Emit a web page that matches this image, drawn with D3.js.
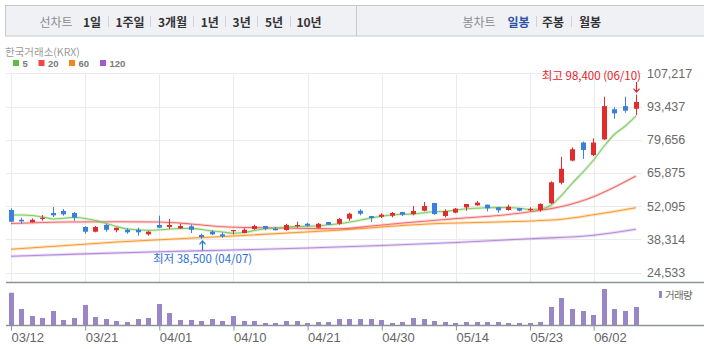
<!DOCTYPE html>
<html><head><meta charset="utf-8">
<script src="https://cdn.jsdelivr.net/npm/d3@7"></script>
<style>body{margin:0;background:#fff;}svg{display:block;}</style>
</head><body>
<svg id="chart" width="704" height="349"></svg>
<script>
// ---------- data ----------
const dates = ["03/12","03/13","03/14","03/17","03/18","03/19","03/20","03/21","03/24","03/25",
  "03/26","03/27","03/28","03/31","04/01","04/02","04/03","04/04","04/07","04/08",
  "04/09","04/10","04/11","04/14","04/15","04/16","04/17","04/18","04/21","04/22",
  "04/23","04/24","04/25","04/28","04/29","04/30","05/02","05/07","05/08","05/09",
  "05/12","05/13","05/14","05/15","05/16","05/19","05/20","05/21","05/22","05/23",
  "05/26","05/27","05/28","05/29","05/30","06/02","06/04","06/05","06/09","06/10"];
const openP  = [50500,46450,45400,46900,49250,50100,49250,43450,41500,44300,
  42100,42300,42300,40400,44300,43450,42900,43750,40150,41500,
  40400,41900,40950,42600,43850,42750,42200,44000,44800,43150,
  45500,44800,46900,50200,48000,47700,48150,49650,48800,50200,
  53400,48000,49400,51600,52450,52700,51600,50500,51300,50400,
  50500,53300,61800,71000,78500,73300,79800,92300,93600,92500];
const highP  = [51200,47300,47050,48400,51750,50900,49650,43750,43850,44800,
  43200,42900,43150,41800,48150,46750,44800,44550,40650,42100,
  41250,42200,42900,44400,43900,43450,44800,45650,45250,45100,
  45550,47200,49400,50800,48050,49150,49650,49700,52150,53800,
  53450,50800,51300,53000,54250,52750,51650,52700,51350,51600,
  53300,62400,72600,76500,78900,80200,97500,93100,97500,98400];
const lowP   = [45400,44800,45350,46050,47600,48150,46050,40650,41250,41500,
  41250,40650,39850,39850,43100,42600,42600,40950,38500,40150,
  39000,40400,40900,42300,42100,42050,41900,43150,43550,42900,
  44300,44400,46050,48300,45500,47200,47450,48000,48300,49950,
  48550,47450,49150,50200,52300,49950,49400,50200,49950,49950,
  49800,53000,61150,70700,71700,72900,79500,88400,90850,89800];
const closeP = [45650,45800,46450,47300,48300,48700,47300,41500,43450,42300,
  43150,41250,41250,41500,43150,44300,43850,42300,39300,40400,
  39600,42200,42300,43850,42750,42100,44300,44300,44000,44800,
  44400,46750,48950,48950,47200,48550,49250,48550,50100,52150,
  48800,50100,51050,53000,53550,51200,50400,51850,50200,50900,
  53000,62000,67600,75700,75400,78500,93600,90600,91700,95300];
const volume = [3230,1600,900,700,1400,500,700,2000,800,600,
  400,300,600,700,2100,1200,500,500,400,600,
  400,900,400,400,200,200,400,400,200,300,
  300,600,600,600,600,500,200,300,700,600,
  400,300,200,300,300,300,300,200,200,200,
  300,1800,2700,1600,1400,1000,3600,1600,1400,1800];
// moving averages
const ma5 = [48420,48400,48220,47590,46760,47050,47470,46970,46140,44900,
  43650,42610,42280,42070,42280,42610,42820,42900,42410,41780,
  41370,40830,41160,41990,42700,42900,43440,43650,43780,43940,
  44400,44770,45520,46350,47180,47930,48420,48720,48840,49380,
  49750,49880,50500,51000,51250,51410,51500,51540,51210,50790,
  50910,52570,56720,61700,66270,71250,77060,82040,85360,89510];
const ma20Idx = [0,5,10,14,17,20,24,28,31,34,37,41,43,46,49,52,55,57,59];
const ma20 = [44900,45520,45640,45520,44690,43570,43110,42820,42700,43860,45100,46560,47260,48220,49790,51950,56020,60040,64610];
const ma60Idx = [0,10,20,30,41,46,49,52,55,59];
const ma60 = [34190,37220,39500,41910,44980,45520,45930,46640,48550,51450];
const ma120Idx = [0,7,14,21,28,35,42,49,55,59];
const ma120 = [31290,32320,33190,33900,34730,35770,37010,38590,40000,42490];

const priceTicks = [24533,38314,52095,65875,79656,93437,107217];
const dateTicks = ["03/12","03/21","04/01","04/10","04/21","04/30","05/14","05/23","06/02"];
const legendItems = ["5","20","60","120"];
const legendColors = ["#5dbe3f","#ef4848","#f5861f","#9d5ccc"];
const navLine = ["1일","1주일","3개월","1년","3년","5년","10년"];
const navLineX = [83,115.4,158,200.7,232.6,265,296.4];
const navLineSep = [107.8,150.4,193,224.5,256.8,289.6];
const navCandle = ["일봉","주봉","월봉"];
const navCandleX = [507.4,542,579];
const navCandleSep = [535.7,571];

// ---------- chart ----------
const svg = d3.select("#chart");
const KR = "'Noto Sans CJK KR','Noto Sans',sans-serif";
const NUM = "'Liberation Sans Narrow','Arial Narrow','Liberation Sans',sans-serif";

// nav bar
svg.append("rect").attr("x",5.5).attr("y",5.5).attr("width",720).attr("height",30.5)
  .attr("fill","#f0f1f5").attr("stroke","#c8c8cc");
svg.append("line").attr("x1",356.5).attr("x2",356.5).attr("y1",6).attr("y2",36).attr("stroke","#c8c8cc");
function navText(t,x,color,weight){
  svg.append("text").attr("x",x).attr("y",21).attr("dominant-baseline","central")
    .attr("font-family",KR).attr("font-size",12).attr("font-weight",weight).attr("fill",color).text(t);
}
navText("선차트",39.5,"#8c8c8c",400);
navLine.forEach((t,i)=>navText(t,navLineX[i],"#333",700));
navText("봉차트",462.5,"#8c8c8c",400);
navCandle.forEach((t,i)=>navText(t,navCandleX[i],i===0?"#2c52a6":"#333",700));
navLineSep.concat(navCandleSep).forEach(x=>{
  svg.append("line").attr("x1",Math.round(x)+0.5).attr("x2",Math.round(x)+0.5).attr("y1",16).attr("y2",27).attr("stroke","#d2d2d6");
});

// exchange + legend
svg.append("text").attr("x",5).attr("y",55.5).attr("font-family",KR).attr("font-size",10.5)
  .attr("fill","#9a9a9a").text("한국거래소(KRX)");
const legX = [13,38.5,69,100];
legendItems.forEach((t,i)=>{
  svg.append("rect").attr("x",legX[i]).attr("y",60).attr("width",6).attr("height",6).attr("fill",legendColors[i]);
  svg.append("text").attr("x",legX[i]+9.5).attr("y",67).attr("font-family","'Liberation Sans',sans-serif")
    .attr("font-size",9.5).attr("font-weight",700).attr("fill","#7a7a7a").text(t);
});

// scales
const x = d3.scalePoint().domain(dates).range([11,636]);
const y = d3.scaleLinear().domain([24533,107217]).range([272.6,73.3]);
const vy = d3.scaleLinear().domain([0,d3.max(volume)]).range([325,289]);

// grid
const gGrid = svg.append("g");
priceTicks.forEach(p=>{
  const yy = Math.round(y(p))+0.5;
  gGrid.append("line").attr("x1",6).attr("x2",642).attr("y1",yy).attr("y2",yy).attr("stroke","#ebebeb");
});
dateTicks.forEach(d=>{
  const xx = Math.round(x(d))+0.5;
  gGrid.append("line").attr("x1",xx).attr("x2",xx).attr("y1",73).attr("y2",282).attr("stroke","#ebebeb");
});

// right axis (labels)
const yAxis = d3.axisRight(y).tickValues(priceTicks).tickSize(0).tickPadding(0)
  .tickFormat(d=>d3.format(",")(d));
const gy = svg.append("g").attr("transform","translate(647,0)").call(yAxis);
gy.select(".domain").remove();
gy.selectAll("text").attr("font-family",NUM).attr("font-size",12.5).attr("fill","#6a6a6a");

// moving averages
function drawMA(idx, vals, color, op){
  const line = d3.line().x((d,i)=>x(dates[idx[i]])).y(d=>y(d)).curve(d3.curveMonotoneX);
  svg.append("path").attr("d",line(vals)).attr("fill","none").attr("stroke",color).attr("stroke-width",3).attr("stroke-opacity",0.25);
  svg.append("path").attr("d",line(vals)).attr("fill","none").attr("stroke",color).attr("stroke-width",1.1).attr("stroke-opacity",op);
}
drawMA(ma120Idx, ma120, "#a877d6", 0.8);
drawMA(ma60Idx, ma60, "#f7921e", 0.9);
drawMA(ma20Idx, ma20, "#f06262", 0.9);
drawMA(d3.range(dates.length), ma5, "#78c95a", 0.9);

// candles
const gC = svg.append("g");
dates.forEach((d,i)=>{
  const up = closeP[i] >= openP[i];
  const col = up ? "#e22b2b" : "#3a7ee0";
  const left = Math.round(x(d)-2.5);
  gC.append("rect").attr("x",left+2).attr("width",1)
    .attr("y",y(highP[i])).attr("height",Math.max(1,y(lowP[i])-y(highP[i]))).attr("fill",col);
  const top = y(Math.max(openP[i],closeP[i])), bot = y(Math.min(openP[i],closeP[i]));
  gC.append("rect").attr("x",left).attr("width",5)
    .attr("y",top).attr("height",Math.max(1.2,bot-top)).attr("fill",col);
});

// price axis bottom line
svg.append("line").attr("x1",6).attr("x2",704).attr("y1",282.5).attr("y2",282.5).attr("stroke","#8d9299").attr("stroke-width",1.5);

// volume bars
const gV = svg.append("g");
dates.forEach((d,i)=>{
  const left = Math.round(x(d)-2.5);
  gV.append("rect").attr("x",left).attr("width",5).attr("y",vy(volume[i])).attr("height",325-vy(volume[i])).attr("fill","#9a86c6");
});
svg.append("line").attr("x1",6).attr("x2",704).attr("y1",325.5).attr("y2",325.5).attr("stroke","#8d9299").attr("stroke-width",1.5);

// volume legend
svg.append("rect").attr("x",659).attr("y",291).attr("width",3).attr("height",7).attr("fill","#9a86c6");
svg.append("text").attr("x",665).attr("y",298.5).attr("font-family",KR).attr("font-size",10.5)
  .attr("letter-spacing","-0.6").attr("fill","#6a6a6a").text("거래량");

// x axis
const xAxis = d3.axisBottom(x).tickValues(dateTicks).tickSize(5).tickPadding(2);
const gx = svg.append("g").attr("transform","translate(0,325.5)").call(xAxis);
gx.select(".domain").remove();
gx.selectAll("line").attr("stroke","#8d9299");
gx.selectAll("text").attr("text-anchor","start").attr("dy",null).attr("y",16.5)
  .attr("font-family",NUM).attr("font-size",13).attr("fill","#666");

// max / min annotations
const iMax = d3.maxIndex(highP), iMin = d3.minIndex(lowP);
const fmt = d3.format(",");
const xm = Math.round(x(dates[iMax]))+0.5;
svg.append("text").attr("x",641).attr("y",75).attr("dominant-baseline","central").attr("text-anchor","end")
  .attr("font-family",KR).attr("font-size",11.5).attr("fill","#e3232a")
  .text(`최고 ${fmt(highP[iMax])} (${dates[iMax]})`);
svg.append("path").attr("d",`M${xm},82V${y(highP[iMax])-2.5}M${xm-3},${y(highP[iMax])-6}L${xm},${y(highP[iMax])-2.5}L${xm+3},${y(highP[iMax])-6}`)
  .attr("fill","none").attr("stroke","#e3232a").attr("stroke-width",1.2);
const xn = Math.round(x(dates[iMin]))+0.5;
svg.append("text").attr("x",153).attr("y",257.5).attr("dominant-baseline","central")
  .attr("font-family",KR).attr("font-size",11.5).attr("fill","#2a72d8")
  .text(`최저 ${fmt(lowP[iMin])} (${dates[iMin]})`);
svg.append("path").attr("d",`M${xn},250.5V${y(lowP[iMin])+2}M${xn-3},${y(lowP[iMin])+5.5}L${xn},${y(lowP[iMin])+2}L${xn+3},${y(lowP[iMin])+5.5}`)
  .attr("fill","none").attr("stroke","#2a72d8").attr("stroke-width",1.2);
</script>
</body></html>
